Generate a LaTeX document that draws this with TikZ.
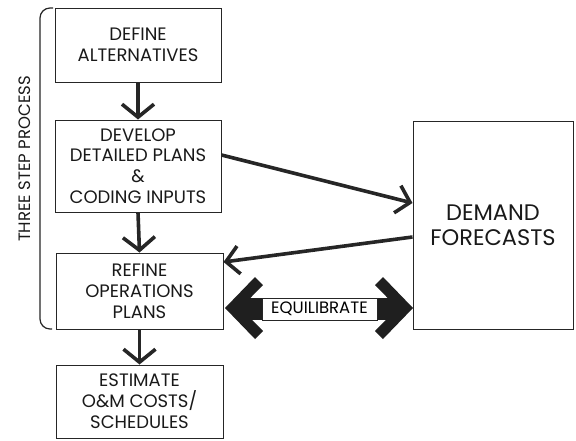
\documentclass[tikz,border=0pt]{standalone}
\usepackage{fontspec}
\setmainfont{Poppins}
\usetikzlibrary{arrows.meta,calc}
\tikzset{
  box/.style={draw=black!85, line width=1pt, rectangle, align=center, inner sep=0pt,
    font=\fontsize{18}{20.8}\selectfont, text=black!90},
  flow/.style={draw=black!85, line width=3.6pt, -{Straight Barb[length=13pt,width=32pt,line width=3.6pt]}},
  slant/.style={draw=black!85, line width=3.6pt, -{Straight Barb[length=13pt,width=28pt,line width=3.6pt]}},
  fat/.style={fill=black!88, draw=none},
}
\begin{document}
\begin{tikzpicture}[x=1pt,y=-1pt]
\useasboundingbox (0,0) rectangle (576,440);
\node[box, minimum width=166pt, minimum height=74pt] (b1) at (138,45) {DEFINE\\ALTERNATIVES};
\node[box, minimum width=166pt, minimum height=92pt] (b2) at (138,166) {DEVELOP\\DETAILED PLANS\\\&\\CODING INPUTS};
\node[box, minimum width=167pt, minimum height=76pt] (b3) at (139.5,291) {REFINE\\OPERATIONS\\PLANS};
\node[box, minimum width=167pt, minimum height=73pt] (b4) at (139.5,401.5) {ESTIMATE\\O\&M COSTS/\\SCHEDULES};
\node[box, minimum width=160pt, minimum height=208pt, font=\fontsize{22.5}{25}\selectfont] (df) at (493,225) {DEMAND\\FORECASTS};
\node[rotate=90, font=\fontsize{16.5}{18}\selectfont, text=black!90] (tsp) at (25,159) {THREE STEP PROCESS};
% bracket
\draw[black!85, line width=1.2pt, rounded corners=10pt] (53,8) -- (40,8) -- (40,329) -- (52,329);
% down arrows
\draw[flow] (b1.south) -- (b2.north);
\draw[flow] (b2.south) -- (b3.north);
\draw[flow] (b3.south) -- (b4.north);
% slanted arrows
\draw[slant] ([yshift=11pt]b2.east) -- ([yshift=22pt]df.west);
\draw[slant] ([yshift=-12pt]df.west) -- ([yshift=29pt]b3.east);
% equilibrate fat double arrow
\fill[fat] (225,308) -- (255,277) -- (263,285) -- (240.5,308) -- (263,331) -- (255,339) -- cycle;
\fill[fat] (239,298) rectangle (264,320);
\fill[fat] (413,308) -- (383,277) -- (375,285) -- (397.5,308) -- (375,331) -- (383,339) -- cycle;
\fill[fat] (374,298) rectangle (399,320);
\node[draw=black!85, fill=white, line width=1pt, minimum width=115pt, minimum height=22pt, inner sep=0pt,
  font=\fontsize{16.5}{18}\selectfont] (eq) at (319.5,309) {EQUILIBRATE};
\end{tikzpicture}
\end{document}
